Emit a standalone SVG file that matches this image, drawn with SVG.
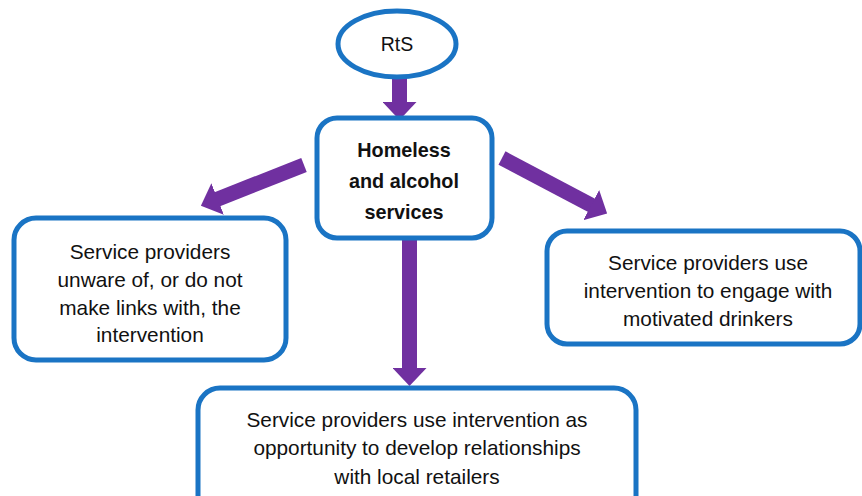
<svg xmlns="http://www.w3.org/2000/svg" width="862" height="496" viewBox="0 0 862 496">
<style>
.box{fill:#ffffff;stroke:#1A74C4;stroke-width:5}
.t{font-family:"Liberation Sans",Arial,sans-serif;font-size:20.8px;fill:#111111;text-anchor:middle}
.b{font-weight:bold;font-size:19.8px}
.r{font-size:19.5px}
.arr{stroke:#7030A0;stroke-width:15;fill:none;marker-end:url(#head)}
</style>
<defs>
<marker id="head" markerUnits="userSpaceOnUse" markerWidth="18" markerHeight="34" viewBox="0 0 18 34" refX="1" refY="17" orient="auto">
<path d="M0,0 L18,17 L0,34 Z" fill="#7030A0"/>
</marker>
</defs>
<rect width="862" height="496" fill="#ffffff"/>
<g id="connectors">
<line class="arr" x1="399.5" y1="76" x2="399.5" y2="103"/>
<line class="arr" x1="409.5" y1="238" x2="409.5" y2="369"/>
<line class="arr" x1="304" y1="165" x2="216.7" y2="199.4"/>
<line class="arr" x1="502" y1="158" x2="592.1" y2="205.6"/>
</g>
<g id="rts">
<ellipse class="box" cx="397" cy="44" rx="59" ry="33"/>
<text class="t r" x="397" y="51">RtS</text>
</g>
<g id="services">
<rect class="box" x="317" y="118" width="175" height="120" rx="20"/>
<text class="t b" x="404" y="157">Homeless</text>
<text class="t b" x="404" y="188">and alcohol</text>
<text class="t b" x="404" y="219">services</text>
</g>
<g id="unaware">
<rect class="box" x="14" y="218" width="272" height="142" rx="22"/>
<text class="t" x="150" y="259">Service providers</text>
<text class="t" x="150" y="287">unware of, or do not</text>
<text class="t" x="150" y="315">make links with, the</text>
<text class="t" x="150" y="342">intervention</text>
</g>
<g id="engage">
<rect class="box" x="547" y="231" width="313" height="113" rx="20"/>
<text class="t" x="708" y="270">Service providers use</text>
<text class="t" x="708" y="298">intervention to engage with</text>
<text class="t" x="708" y="326">motivated drinkers</text>
</g>
<g id="retailers">
<rect class="box" x="198" y="388" width="438" height="130" rx="22"/>
<text class="t" x="417" y="427">Service providers use intervention as</text>
<text class="t" x="417" y="455">opportunity to develop relationships</text>
<text class="t" x="417" y="484">with local retailers</text>
</g>
</svg>
